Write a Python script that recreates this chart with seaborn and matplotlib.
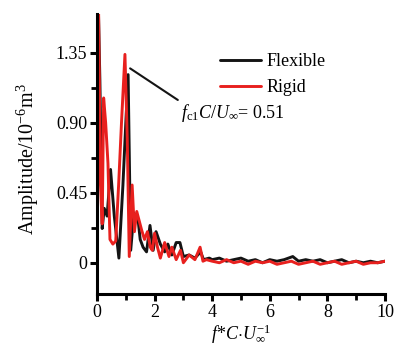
import matplotlib
matplotlib.use("Agg")
import matplotlib.pyplot as plt
import seaborn as sns
import pandas as pd

# frequency (f*C/U) and amplitude (1e-6 m^3)
flex_x = [0.0, 0.04, 0.1, 0.18, 0.25, 0.35, 0.47, 0.6, 0.76, 0.9, 1.0, 1.08, 1.17, 1.28,
          1.43, 1.5, 1.6, 1.72, 1.84, 1.95, 2.05, 2.2, 2.35, 2.46, 2.6, 2.75, 2.88, 3.0,
          3.2, 3.4, 3.6, 3.7, 3.9, 4.0, 4.25, 4.5, 4.75, 5.0, 5.25, 5.5, 5.75, 6.0, 6.25,
          6.5, 6.8, 7.0, 7.25, 7.5, 7.75, 8.0, 8.25, 8.5, 8.75, 9.0, 9.25, 9.5, 9.75, 10.0]
flex_y = [0.8, 1.7, 1.17, 0.22, 0.35, 0.3, 0.6, 0.3, 0.03, 0.5, 0.9, 1.21, 0.08, 0.32,
          0.27, 0.15, 0.1, 0.07, 0.24, 0.08, 0.2, 0.12, 0.07, 0.12, 0.05, 0.13, 0.13, 0.04,
          0.05, 0.03, 0.07, 0.02, 0.03, 0.02, 0.03, 0.01, 0.02, 0.03, 0.01, 0.02, 0.0, 0.02, 0.01,
          0.02, 0.04, 0.01, 0.02, 0.01, 0.02, 0.0, 0.01, 0.02, 0.0, 0.01, 0.0, 0.01, 0.0, 0.01]

rigid_x = [0.0, 0.05, 0.12, 0.18, 0.23, 0.3, 0.38, 0.45, 0.55, 0.65, 0.75, 0.85, 0.97, 1.05,
           1.12, 1.22, 1.3, 1.38, 1.55, 1.65, 1.75, 1.85, 1.92, 2.0, 2.1, 2.2, 2.35, 2.5,
           2.6, 2.75, 2.9, 3.0, 3.2, 3.4, 3.58, 3.68, 3.8, 4.0, 4.25, 4.5, 4.75, 5.0, 5.25,
           5.5, 5.75, 6.0, 6.25, 6.5, 6.75, 7.0, 7.25, 7.5, 7.75, 8.0, 8.25, 8.5, 8.75, 9.0,
           9.25, 9.5, 9.75, 10.0]
rigid_y = [0.9, 1.7, 0.5, 0.25, 1.06, 0.9, 0.64, 0.15, 0.12, 0.14, 0.5, 0.9, 1.34, 0.8,
           0.04, 0.5, 0.2, 0.33, 0.21, 0.15, 0.2, 0.1, 0.08, 0.19, 0.1, 0.03, 0.13, 0.04,
           0.1, 0.02, 0.08, 0.0, 0.05, 0.02, 0.1, 0.01, 0.02, 0.01, 0.0, 0.02, 0.0, 0.01, -0.01,
           0.01, 0.0, 0.01, -0.01, 0.0, 0.01, -0.01, 0.0, 0.01, -0.01, 0.0, 0.01, -0.01, 0.0, 0.01,
           -0.01, 0.0, 0.0, 0.01]

yticks = [0, 0.45, 0.9, 1.35]
ytick_labels = ["0", "0.45", "0.90", "1.35"]

df = pd.concat([
    pd.DataFrame({"f": flex_x, "amp": flex_y, "case": "Flexible"}),
    pd.DataFrame({"f": rigid_x, "amp": rigid_y, "case": "Rigid"}),
])

sns.set_style("ticks", {"axes.edgecolor": "black", "xtick.color": "black", "ytick.color": "black",
                        "text.color": "black", "axes.labelcolor": "black"})
plt.rcParams["font.family"] = ["Liberation Serif", "DejaVu Serif"]
plt.rcParams["mathtext.fontset"] = "custom"
plt.rcParams["mathtext.rm"] = "Liberation Serif"
plt.rcParams["mathtext.it"] = "Liberation Serif:italic"

fig = plt.figure(figsize=(3.96, 3.49), dpi=100)
ax = fig.add_axes([0.245, 0.158, 0.727, 0.802])

sns.lineplot(data=df, x="f", y="amp", hue="case", palette={"Flexible": "#141414", "Rigid": "#e8201e"},
             linewidth=2.1, sort=False, estimator=None, ax=ax)

ax.set_xlim(0, 10)
ax.set_ylim(-0.2, 1.6)
ax.set_xticks([0, 2, 4, 6, 8, 10])
ax.set_xticks([1, 3, 5, 7, 9], minor=True)
ax.set_yticks(yticks)
ax.set_yticklabels(ytick_labels)
ax.set_yticks([0.225, 0.675, 1.125], minor=True)

sns.despine(ax=ax)
for s in ["left", "bottom"]:
    ax.spines[s].set_linewidth(2.2)
ax.tick_params(which="major", direction="out", length=5, width=2.2, labelsize=13, pad=2,
               color="black", labelcolor="black")
ax.xaxis.set_tick_params(which="minor", bottom=True, direction="out", length=4, width=2, color="black")
ax.yaxis.set_tick_params(which="minor", left=True, direction="out", length=4, width=2, color="black")

ax.set_xlabel(r"$f$*$C$$\cdot$$U_{\infty}^{-1}$", fontsize=13, labelpad=1)
ax.set_ylabel(r"Amplitude/10$^{-6}$m$^{3}$", fontsize=14.5)
ax.yaxis.set_label_coords(-0.195, 0.48)

ax.annotate(r"$f_{\rm c1}C/U_{\infty}$= 0.51", xy=(1.15, 1.25), xytext=(2.92, 0.93),
            fontsize=13, arrowprops=dict(arrowstyle="-", color="#141414", lw=1.5,
                                         shrinkA=0, shrinkB=0, relpos=(0, 1)))

ax.legend(loc="upper right", bbox_to_anchor=(0.82, 0.885), frameon=False, fontsize=13,
          handlelength=2.3, handletextpad=0.3, labelspacing=0.5, borderaxespad=0)

fig.savefig("out.png", dpi=100)
